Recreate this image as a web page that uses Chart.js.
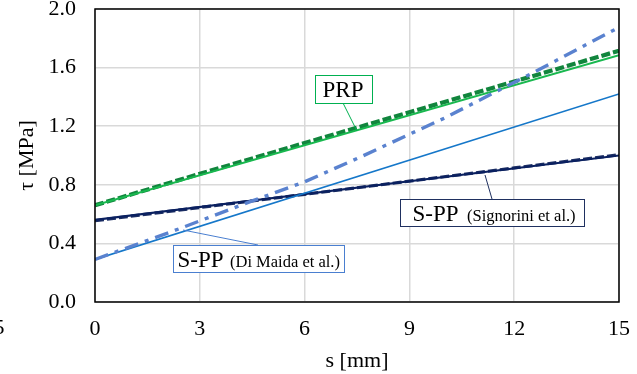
<!DOCTYPE html>
<html><head><meta charset="utf-8">
<script src="https://cdn.jsdelivr.net/npm/chart.js@4/dist/chart.umd.min.js"></script>
<style>html,body{margin:0;padding:0;background:#fff}#wrap{width:637px;height:374px}</style>
</head><body><div id="wrap"><canvas id="c" width="637" height="374"></canvas></div>
<script>
// slip s [mm]
const xTicks = [0, 3, 6, 9, 12, 15];
const yTicks = [0.0, 0.4, 0.8, 1.2, 1.6, 2.0];

const prpModelS   = [0, 15];
const prpModelTau = [0.66, 1.685];
const prpExpS     = [0, 3, 6, 9, 12, 15];
const prpExpTau   = [0.66, 0.875, 1.085, 1.295, 1.505, 1.715];

const sigModelS   = [0, 15];
const sigModelTau = [0.56, 1.0];
const sigExpS     = [0, 3, 6, 9, 12, 15];
const sigExpTau   = [0.555, 0.645, 0.735, 0.825, 0.915, 1.005];

const dmModelS    = [0, 15];
const dmModelTau  = [0.29, 1.42];
const dmExpS      = [0, 2.3, 4.5, 6, 7.6, 10, 12.5, 15];
const dmExpTau    = [0.29, 0.49, 0.69, 0.82, 0.99, 1.255, 1.56, 1.875];

const pts = (xs, ys) => xs.map((x, i) => ({x, y: ys[i]}));

const serif = "'Liberation Serif','Times New Roman',serif";

const annot = {
  id: 'annot',
  afterDatasetsDraw(chart) {
    const ctx = chart.ctx, a = chart.chartArea;
    ctx.save();
    // plot frame
    ctx.strokeStyle = '#000'; ctx.lineWidth = 1.5;
    ctx.strokeRect(a.left, a.top, a.right - a.left, a.bottom - a.top);
    const box = (x, y, w, h, col) => {
      ctx.fillStyle = '#fff'; ctx.fillRect(x, y, w, h);
      ctx.strokeStyle = col; ctx.lineWidth = 1; ctx.strokeRect(x + 0.5, y + 0.5, w, h);
    };
    const line = (x1, y1, x2, y2, col) => {
      ctx.strokeStyle = col; ctx.lineWidth = 1; ctx.beginPath();
      ctx.moveTo(x1, y1); ctx.lineTo(x2, y2); ctx.stroke();
    };
    // leaders
    line(343, 103, 357, 131, '#00B050');
    line(183, 230, 258, 245, '#4A7FD0');
    line(485, 175, 492, 199, '#1F3060');
    // boxes
    box(315, 75, 57, 28, '#00B050');
    box(173, 245, 171, 27, '#4A7FD0');
    box(400, 199, 184, 27, '#1F3060');
    ctx.fillStyle = '#000'; ctx.textBaseline = 'alphabetic'; ctx.textAlign = 'left';
    ctx.font = '23px ' + serif;
    ctx.fillText('PRP', 322.5, 97);
    ctx.fillText('S-PP', 177.5, 267);
    ctx.fillText('S-PP', 412.5, 221);
    ctx.font = '16.5px ' + serif;
    ctx.fillText('(Di Maida et al.)', 230, 267);
    ctx.fillText('(Signorini et al.)', 467, 221);
    // stray clipped label at far left
    ctx.font = '22px ' + serif; ctx.textAlign = 'right'; ctx.textBaseline = 'middle';
    ctx.fillText('15', 4.5, 328);
    ctx.restore();
  }
};

new Chart(document.getElementById('c'), {
  type: 'scatter',
  data: {
    datasets: [
      {data: pts(dmExpS, dmExpTau), borderColor: '#5A82CF', borderWidth: 3.4, borderDash: [14, 7, 4, 7], showLine: true, pointRadius: 0},
      {data: pts(dmModelS, dmModelTau), borderColor: '#1577C9', borderWidth: 1.7, showLine: true, pointRadius: 0},
      {data: pts(sigModelS, sigModelTau), borderColor: '#0A2060', borderWidth: 2.2, showLine: true, pointRadius: 0},
      {data: pts(sigExpS, sigExpTau), borderColor: '#1C2E63', borderWidth: 3.2, borderDash: [9, 3], showLine: true, pointRadius: 0},
      {data: pts(prpModelS, prpModelTau), borderColor: '#19B84F', borderWidth: 2, showLine: true, pointRadius: 0},
      {data: pts(prpExpS, prpExpTau), borderColor: '#11853D', borderWidth: 4.2, borderDash: [9, 3], showLine: true, pointRadius: 0}
    ]
  },
  options: {
    animation: false, responsive: false, devicePixelRatio: 1,
    layout: {padding: {left: 0, top: 9, right: 18, bottom: 0}},
    plugins: {legend: {display: false}, tooltip: {enabled: false}},
    scales: {
      x: {
        type: 'linear', min: 0, max: 15,
        afterBuildTicks: s => { s.ticks = xTicks.map(v => ({value: v})); },
        afterFit: s => { s.height = 72; s.paddingLeft = 0; s.paddingRight = 0; s.paddingTop = 0; s.paddingBottom = 0; },
        ticks: {color: '#000', font: {family: serif, size: 22}, padding: 14, maxRotation: 0},
        grid: {color: '#D9D9D9', lineWidth: 1.5, drawTicks: false},
        border: {display: false},
        title: {display: true, text: 's [mm]', color: '#000', font: {family: serif, size: 22}, padding: {top: 0, bottom: 0}}
      },
      y: {
        type: 'linear', min: 0, max: 2,
        afterBuildTicks: s => { s.ticks = yTicks.map(v => ({value: v})); },
        afterFit: s => { s.width = 95; s.paddingTop = 0; s.paddingBottom = 0; s.paddingLeft = 0; s.paddingRight = 0; },
        ticks: {color: '#000', font: {family: serif, size: 22}, padding: 19, callback: v => v.toFixed(1)},
        grid: {color: '#D9D9D9', lineWidth: 1.5, drawTicks: false},
        border: {display: false},
        title: {display: true, text: 'τ [MPa]', color: '#000', font: {family: serif, size: 22}, padding: {top: 14, bottom: 4}}
      }
    }
  },
  plugins: [annot]
});
</script></body></html>
